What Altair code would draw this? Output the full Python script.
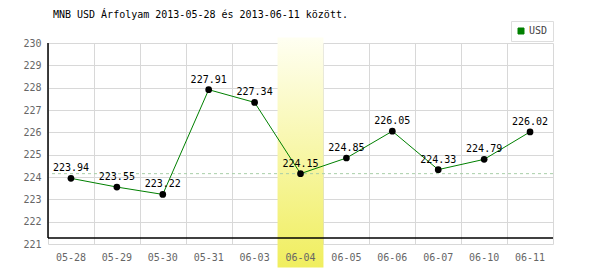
import altair as alt
import pandas as pd

dates = ['05-28', '05-29', '05-30', '05-31', '06-03', '06-04',
         '06-05', '06-06', '06-07', '06-10', '06-11']
values = [223.94, 223.55, 223.22, 227.91, 227.34, 224.15,
          224.85, 226.05, 224.33, 224.79, 226.02]
highlight_date = '06-04'
highlight_value = 224.15
y_ticks = list(range(221, 231))
y_min, y_max = 221, 230
series_name = 'USD'
title_text = 'MNB USD Árfolyam 2013-05-28 és 2013-06-11 között.'

df = pd.DataFrame({'date': dates, 'value': values, 'series': [series_name] * len(dates)})
hl = pd.DataFrame({'date': [highlight_date], 'top': [230.25], 'bottom': [219.95]})
ref = pd.DataFrame({'v': [highlight_value]})
frame = pd.DataFrame({'top': [y_max], 'base': [221.27]})

MONO = 'DejaVu Sans Mono'
W, H = 505, 201

xscale = alt.Scale(domain=dates, paddingInner=0, paddingOuter=0)
yscale = alt.Scale(domain=[y_min, y_max], nice=False, zero=False)

grid = alt.Chart(df).mark_point(opacity=0).encode(
    x=alt.X('date:N', scale=xscale, sort=dates,
            axis=alt.Axis(orient='bottom', grid=True, labels=False, ticks=False,
                          domain=False, tickBand='extent', gridColor='#d8d8d8',
                          title=None, zindex=0)),
    y=alt.Y('value:Q', scale=yscale,
            axis=alt.Axis(orient='left', values=y_ticks, grid=True, gridColor='#d8d8d8',
                          domain=False, ticks=False, labelColor='#666666',
                          labelFont=MONO, labelFontSize=10, labelPadding=7,
                          title=None, zindex=0)),
)

rect = alt.Chart(hl).mark_rect(
    fill=alt.Gradient(gradient='linear', x1=0, x2=0, y1=0, y2=1,
                      stops=[alt.GradientStop(color='#fffff2', offset=0),
                             alt.GradientStop(color='#f0ee5e', offset=1)]),
    clip=False,
).encode(
    x=alt.X('date:N', scale=xscale, sort=dates, axis=None),
    y=alt.Y('top:Q', scale=yscale, axis=None),
    y2='bottom:Q',
)

dash = alt.Chart(ref).mark_rule(color='#a8cfa8', strokeDash=[3, 3], strokeWidth=1).encode(
    y=alt.Y('v:Q', scale=yscale, axis=None),
)

vaxis = alt.Chart(frame).mark_rule(color='black', strokeWidth=1.5).encode(
    x=alt.value(0),
    y=alt.Y('top:Q', scale=yscale, axis=None),
    y2='base:Q',
)
haxis = alt.Chart(frame).mark_rule(color='black', strokeWidth=1.5).encode(
    y=alt.Y('base:Q', scale=yscale, axis=None),
)

line = alt.Chart(df).mark_line(strokeWidth=1).encode(
    x=alt.X('date:N', scale=xscale, sort=dates, axis=None),
    y=alt.Y('value:Q', scale=yscale, axis=None),
    color=alt.Color('series:N', scale=alt.Scale(domain=[series_name], range=['#008000']),
                    legend=alt.Legend(orient='none', legendX=463, legendY=-22, title=None,
                                      symbolType='square', symbolSize=36,
                                      symbolFillColor='#008000', symbolStrokeColor='#1a3a1a',
                                      symbolStrokeWidth=1,
                                      labelFont=MONO, labelFontSize=10, labelColor='#444444',
                                      padding=5, strokeColor='#dddddd', fillColor='white',
                                      labelOffset=3)),
)

points = alt.Chart(df).mark_circle(color='black', size=45, opacity=1).encode(
    x=alt.X('date:N', scale=xscale, sort=dates, axis=None),
    y=alt.Y('value:Q', scale=yscale, axis=None),
)

labels = alt.Chart(df).mark_text(dy=-10, font=MONO, fontSize=10, color='black').encode(
    x=alt.X('date:N', scale=xscale, sort=dates, axis=None),
    y=alt.Y('value:Q', scale=yscale, axis=None),
    text=alt.Text('value:Q', format='.2f'),
)

xlab = alt.Chart(df).mark_point(opacity=0).encode(
    x=alt.X('date:N', scale=xscale, sort=dates,
            axis=alt.Axis(orient='bottom', grid=False, ticks=False, domain=False,
                          labelColor='#666666', labelFont=MONO, labelFontSize=10,
                          labelPadding=8, labelAngle=0, title=None, zindex=1)),
    y=alt.Y('value:Q', scale=yscale, axis=None),
)

chart = alt.layer(grid, rect, dash, vaxis, haxis, line, points, labels, xlab).resolve_axis(
    x='independent', y='independent'
).properties(
    width=W, height=H,
    title=alt.Title(title_text, anchor='start', font=MONO, fontSize=10,
                    fontWeight='normal', color='black', offset=1, dx=30),
    padding={'left': 48, 'top': 43, 'right': 47, 'bottom': 26},
    autosize='none',
).configure_view(stroke=None)

chart.save("out.html", embed_options={"renderer": "svg", "actions": False})
